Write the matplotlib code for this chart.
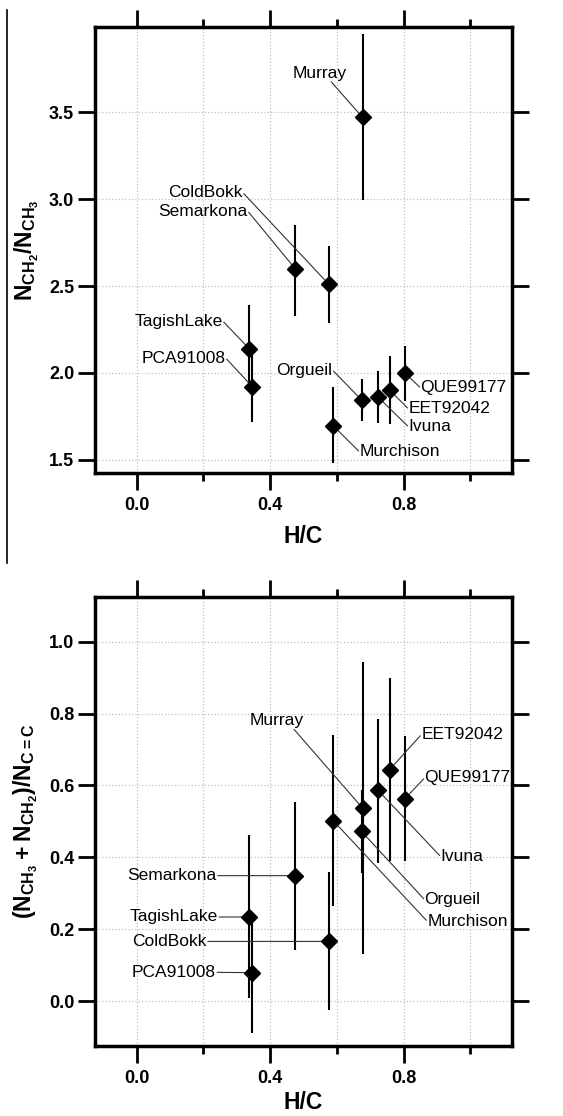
import matplotlib
matplotlib.use('Agg')
import matplotlib.pyplot as plt
from matplotlib.lines import Line2D

plt.rcParams['font.family'] = ['Liberation Sans', 'DejaVu Sans']
plt.rcParams['mathtext.fontset'] = 'custom'
plt.rcParams['mathtext.rm'] = 'Liberation Sans'
plt.rcParams['mathtext.bf'] = 'Liberation Sans:bold'
plt.rcParams['mathtext.default'] = 'bf'

# meteorite names and H/C
names = ['Murray', 'Semarkona', 'ColdBokk', 'TagishLake', 'PCA91008',
         'Orgueil', 'Ivuna', 'EET92042', 'QUE99177', 'Murchison']
hc = [0.677, 0.475, 0.576, 0.337, 0.347, 0.674, 0.722, 0.758, 0.804, 0.589]

# top panel: N_CH2 / N_CH3 with error bar ends
ch2_ch3 = [3.47, 2.60, 2.51, 2.14, 1.92, 1.845, 1.864, 1.902, 2.00, 1.697]
ch2_ch3_hi = [3.95, 2.85, 2.73, 2.39, 2.12, 1.964, 2.013, 2.098, 2.155, 1.918]
ch2_ch3_lo = [2.995, 2.33, 2.29, 1.94, 1.72, 1.726, 1.714, 1.705, 1.84, 1.48]

# bottom panel: (N_CH3 + N_CH2) / N_C=C with error bar ends
ali_cc = [0.537, 0.349, 0.166, 0.234, 0.079, 0.472, 0.588, 0.644, 0.563, 0.502]
ali_cc_hi = [0.944, 0.554, 0.36, 0.461, 0.245, 0.588, 0.785, 0.899, 0.738, 0.739]
ali_cc_lo = [0.13, 0.142, -0.025, 0.008, -0.09, 0.356, 0.385, 0.389, 0.389, 0.264]

x_ticks = [0.0, 0.4, 0.8]
x_minor = [0.2, 0.6, 1.0]

# label placement (x, y, alignment, leader start on the text box)
top_labels = {
    'Murray': (0.548, 3.724, 'center', (0.7, 0.0)),
    'ColdBokk': (0.318, 3.038, 'right', (1.0, 0.5)),
    'Semarkona': (0.333, 2.931, 'right', (1.0, 0.5)),
    'TagishLake': (0.258, 2.299, 'right', (1.0, 0.5)),
    'PCA91008': (0.267, 2.086, 'right', (1.0, 0.5)),
    'Orgueil': (0.587, 2.017, 'right', (1.0, 0.5)),
    'QUE99177': (0.851, 1.914, 'left', (0.0, 0.5)),
    'EET92042': (0.815, 1.793, 'left', (0.0, 0.5)),
    'Ivuna': (0.815, 1.690, 'left', (0.0, 0.5)),
    'Murchison': (0.668, 1.546, 'left', (0.0, 0.5)),
}
bottom_labels = {
    'Murray': (0.420, 0.780, 'center', (0.8, 0.0)),
    'EET92042': (0.853, 0.741, 'left', (0.0, 0.5)),
    'QUE99177': (0.863, 0.621, 'left', (0.0, 0.5)),
    'Ivuna': (0.911, 0.402, 'left', (0.0, 0.5)),
    'Orgueil': (0.863, 0.282, 'left', (0.0, 0.5)),
    'Murchison': (0.871, 0.222, 'left', (0.0, 0.5)),
    'Semarkona': (0.239, 0.349, 'right', (1.0, 0.5)),
    'TagishLake': (0.243, 0.234, 'right', (1.0, 0.5)),
    'ColdBokk': (0.209, 0.166, 'right', (1.0, 0.5)),
    'PCA91008': (0.237, 0.080, 'right', (1.0, 0.5)),
}

fig = plt.figure(figsize=(5.63, 11.16), dpi=100)
ax1 = fig.add_axes([0.1687, 0.5762, 0.7407, 0.3996])
ax2 = fig.add_axes([0.1687, 0.0627, 0.7407, 0.4023])

# thin rule at the left edge of the upper panel
fig.add_artist(Line2D([0.0124, 0.0124], [0.991, 0.4955], color='black', lw=1.2))


def draw_panel(ax, y, lo, hi, labels, ylim, yticks, ylabel, xpad):
    yerr = [[v - l for v, l in zip(y, lo)], [h - v for v, h in zip(y, hi)]]
    ax.errorbar(hc, y, yerr=yerr, fmt='D', color='black', ms=8.5,
                elinewidth=1.5, capsize=0, zorder=3)
    for name, xv, yv in zip(names, hc, y):
        tx, ty, ha, rp = labels[name]
        ax.annotate(name, xy=(xv, yv), xytext=(tx, ty), ha=ha, va='center',
                    fontsize=12.5,
                    arrowprops=dict(arrowstyle='-', lw=0.8, color='#333333',
                                    relpos=rp, patchA=None,
                                    shrinkA=1, shrinkB=0))
    ax.set_xlim(-0.125, 1.125)
    ax.set_ylim(*ylim)
    ax.set_xticks(x_ticks)
    ax.set_xticks(x_minor, minor=True)
    ax.set_yticks(yticks)
    ax.set_xticklabels([f'{t:.1f}' for t in x_ticks], fontsize=13, fontweight='bold')
    ax.set_yticklabels([f'{t:.1f}' for t in yticks], fontsize=13, fontweight='bold')
    ax.tick_params(axis='x', which='major', direction='out', length=12, width=2,
                   top=True, pad=5)
    ax.tick_params(axis='x', which='minor', direction='out', length=6, width=2,
                   top=True)
    ax.tick_params(axis='y', which='major', direction='out', length=12, width=2,
                   right=True, pad=3)
    ax.grid(True, which='both', axis='x', color='#c0c0c0', ls=':', lw=0.9)
    ax.grid(True, which='major', axis='y', color='#c0c0c0', ls=':', lw=0.9)
    ax.set_axisbelow(True)
    for s in ax.spines.values():
        s.set_linewidth(2.5)
    ax.set_xlabel('H/C', fontsize=16.5, fontweight='bold', labelpad=xpad)
    ax.set_ylabel(ylabel, fontsize=16.5, labelpad=6)


draw_panel(ax1, ch2_ch3, ch2_ch3_lo, ch2_ch3_hi, top_labels, (1.425, 3.99),
           [1.5, 2.0, 2.5, 3.0, 3.5], r'$N_{CH_2}/N_{CH_3}$', 8)
draw_panel(ax2, ali_cc, ali_cc_lo, ali_cc_hi, bottom_labels, (-0.125, 1.124),
           [0.0, 0.2, 0.4, 0.6, 0.8, 1.0], r'$(N_{CH_3}+N_{CH_2})/N_{C=C}$', 3)

fig.savefig('out.png', dpi=100)
